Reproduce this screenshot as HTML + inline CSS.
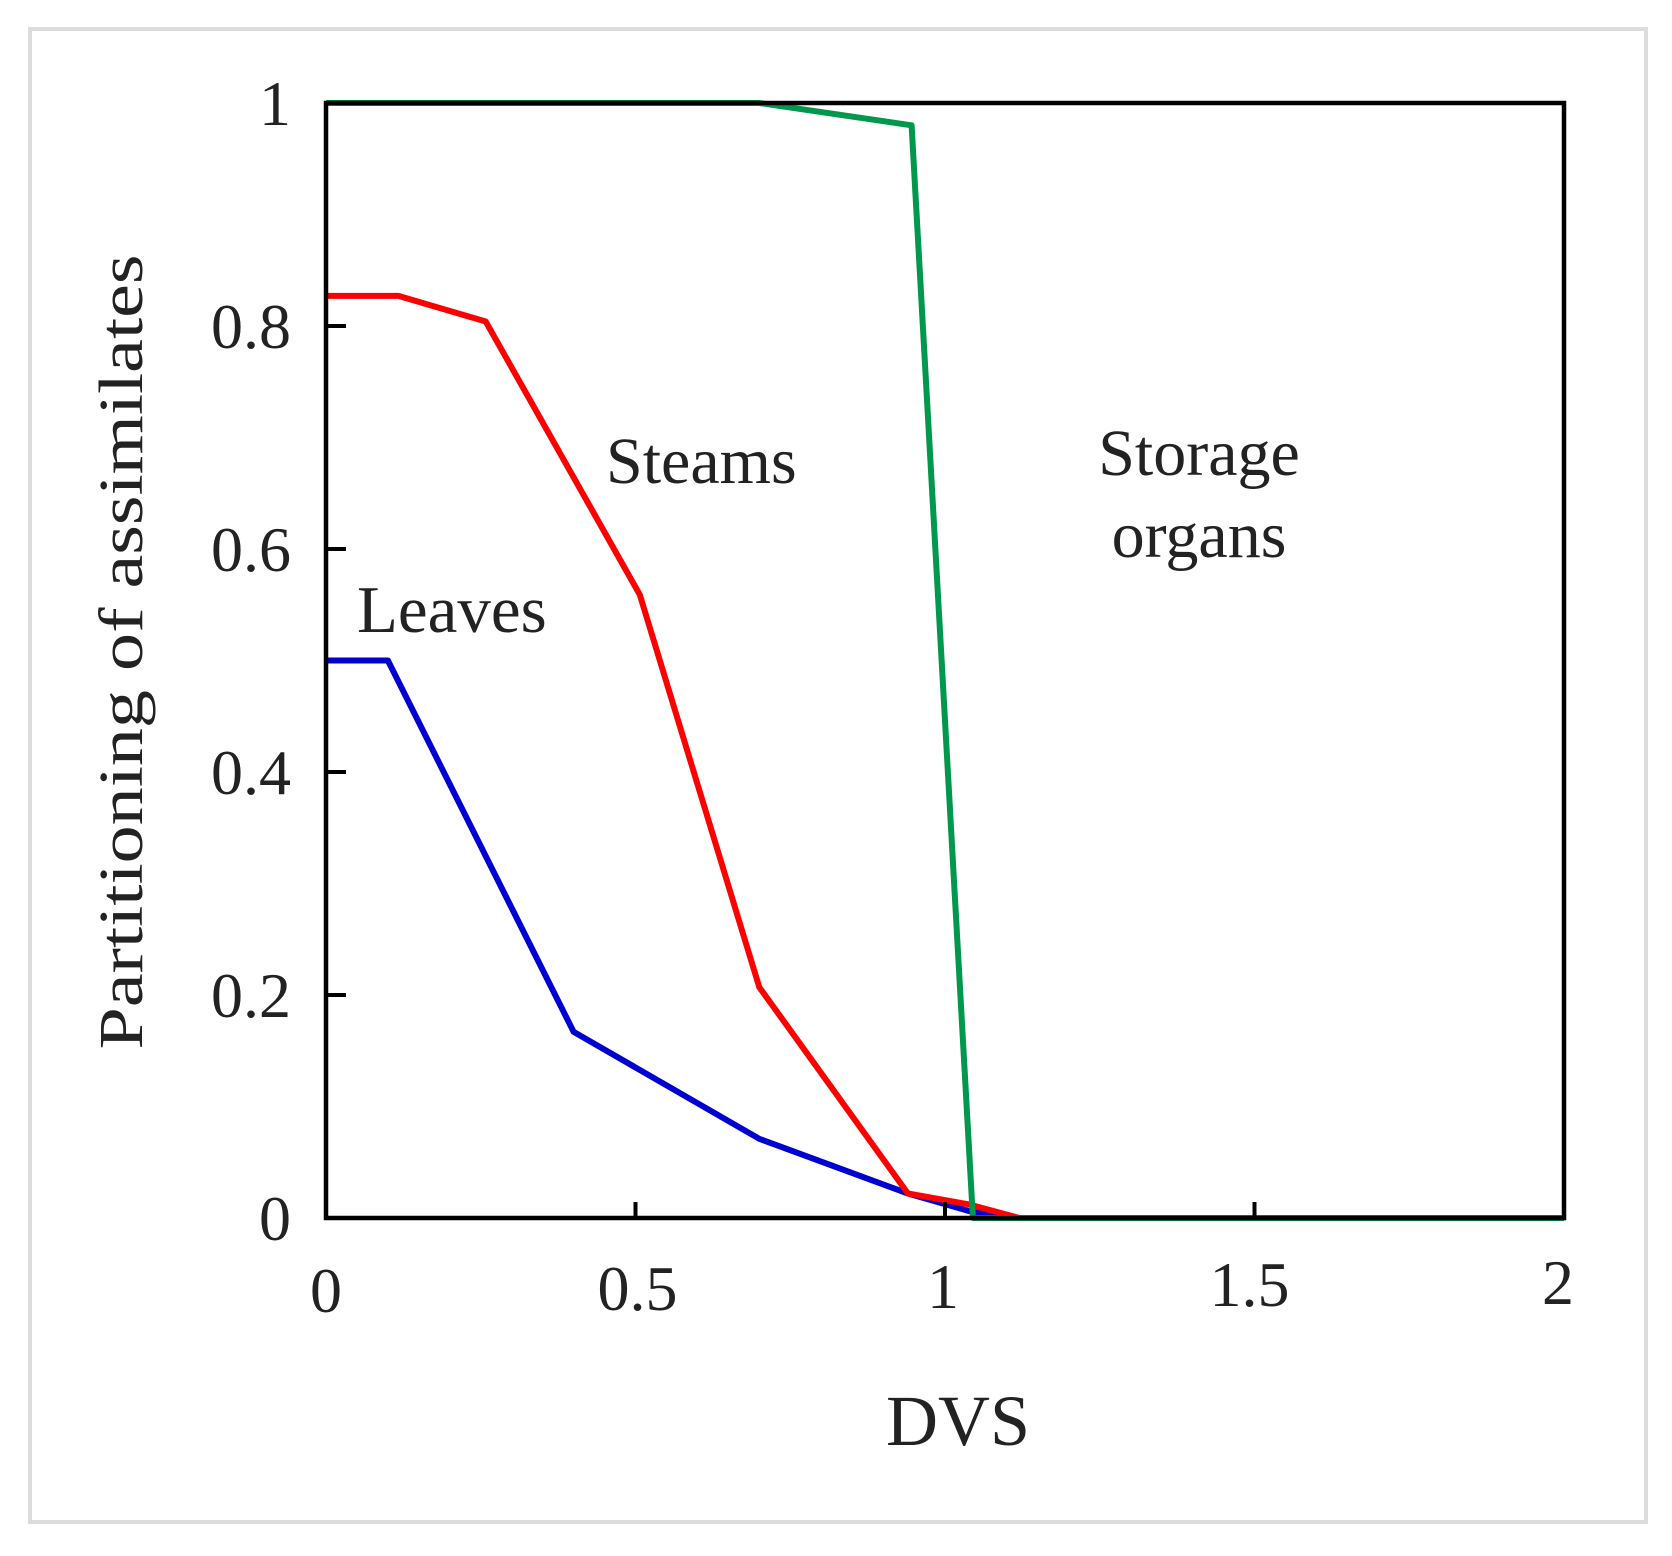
<!DOCTYPE html>
<html><head><meta charset="utf-8">
<style>
html,body{margin:0;padding:0;background:#fff;}
svg{display:block;}
text{font-family:"Liberation Serif","DejaVu Serif",serif;fill:#222;}
</style></head>
<body>
<svg id="chart" width="1672" height="1556" viewBox="0 0 1672 1556" xmlns="http://www.w3.org/2000/svg">
  <rect x="30" y="29" width="1616" height="1493" fill="#fff" stroke="#dcdcdc" stroke-width="4"/>
  <g id="marks"></g>
  <rect x="326" y="103" width="1238" height="1115" fill="none" stroke="#000" stroke-width="4.5"/>
  <g id="ticks"></g>
  <text transform="translate(142,652) rotate(-90)" text-anchor="middle" font-size="62" textLength="795" lengthAdjust="spacingAndGlyphs">Partitioning of assimilates</text>
  <text x="958" y="1445" text-anchor="middle" font-size="72">DVS</text>
  <text x="606" y="483" font-size="66">Steams</text>
  <text x="357" y="632" font-size="67">Leaves</text>
  <text x="1199" y="475" text-anchor="middle" font-size="66">Storage</text>
  <text x="1199" y="557" text-anchor="middle" font-size="66">organs</text>
</svg>
<script>
const xTicks = [0, 0.5, 1, 1.5, 2];
const xTickLabels = ["0", "0.5", "1", "1.5", "2"];
const yTicks = [0, 0.2, 0.4, 0.6, 0.8, 1];
const yTickLabels = ["0", "0.2", "0.4", "0.6", "0.8", "1"];
const leavesX = [0, 0.1, 0.4, 0.7, 0.94, 1.04, 1.1];
const leavesY = [0.5, 0.5, 0.167, 0.071, 0.022, 0.006, 0];
const stemsX = [0, 0.117, 0.258, 0.507, 0.70, 0.94, 1.04, 1.12];
const stemsY = [0.827, 0.827, 0.804, 0.559, 0.207, 0.022, 0.012, 0];
const storageX = [0, 0.70, 0.946, 1.045, 2];
const storageY = [1, 1, 0.98, 0, 0];

const NS = "http://www.w3.org/2000/svg";
const X0 = 326, X1 = 1564, Y0 = 1218, Y1 = 103;
function sx(v){ return X0 + (v - 0) / 2 * (X1 - X0); }
function sy(v){ return Y0 - v * (Y0 - Y1); }

const marks = document.getElementById('marks');
function drawLine(xs, ys, color, name){
  const p = document.createElementNS(NS, 'polyline');
  p.setAttribute('points', xs.map((x,i)=>sx(x).toFixed(1)+','+sy(ys[i]).toFixed(1)).join(' '));
  p.setAttribute('fill','none');
  p.setAttribute('stroke',color);
  p.setAttribute('stroke-width','6');
  p.setAttribute('stroke-linejoin','round');
  
  
  marks.appendChild(p);
}
drawLine(leavesX, leavesY, '#0000d0', 'leaves-line');
drawLine(stemsX, stemsY, '#ff0000', 'stems-line');
drawLine(storageX, storageY, '#00984c', 'storage-organs-line');

const ticks = document.getElementById('ticks');
xTicks.forEach((t,i)=>{
  if (t > 0 && t < 2) {
    const l = document.createElementNS(NS,'line');
    l.setAttribute('x1', sx(t)); l.setAttribute('x2', sx(t));
    l.setAttribute('y1', Y0); l.setAttribute('y2', Y0 - 16);
    l.setAttribute('stroke','#000'); l.setAttribute('stroke-width','4');
    
    
    ticks.appendChild(l);
  }
  const tx = document.createElementNS(NS,'text');
  tx.setAttribute('x', sx(t) + (i===0?0:(i===4?-6:(i===1?2:(i===2?-2:-5)))));
  tx.setAttribute('y', 1312 - i*2);
  tx.setAttribute('text-anchor','middle');
  tx.setAttribute('font-size','64');
  tx.textContent = xTickLabels[i];
  
  
  ticks.appendChild(tx);
});
yTicks.forEach((t,i)=>{
  if (t > 0 && t < 1) {
    const l = document.createElementNS(NS,'line');
    l.setAttribute('x1', X0); l.setAttribute('x2', X0 + 20);
    l.setAttribute('y1', sy(t)); l.setAttribute('y2', sy(t));
    l.setAttribute('stroke','#000'); l.setAttribute('stroke-width','4');
    
    
    ticks.appendChild(l);
  }
  const tx = document.createElementNS(NS,'text');
  tx.setAttribute('x', 291);
  tx.setAttribute('y', sy(t) + 22);
  tx.setAttribute('text-anchor','end');
  tx.setAttribute('font-size','64');
  tx.textContent = yTickLabels[i];
  
  
  ticks.appendChild(tx);
});
</script>
</body></html>
